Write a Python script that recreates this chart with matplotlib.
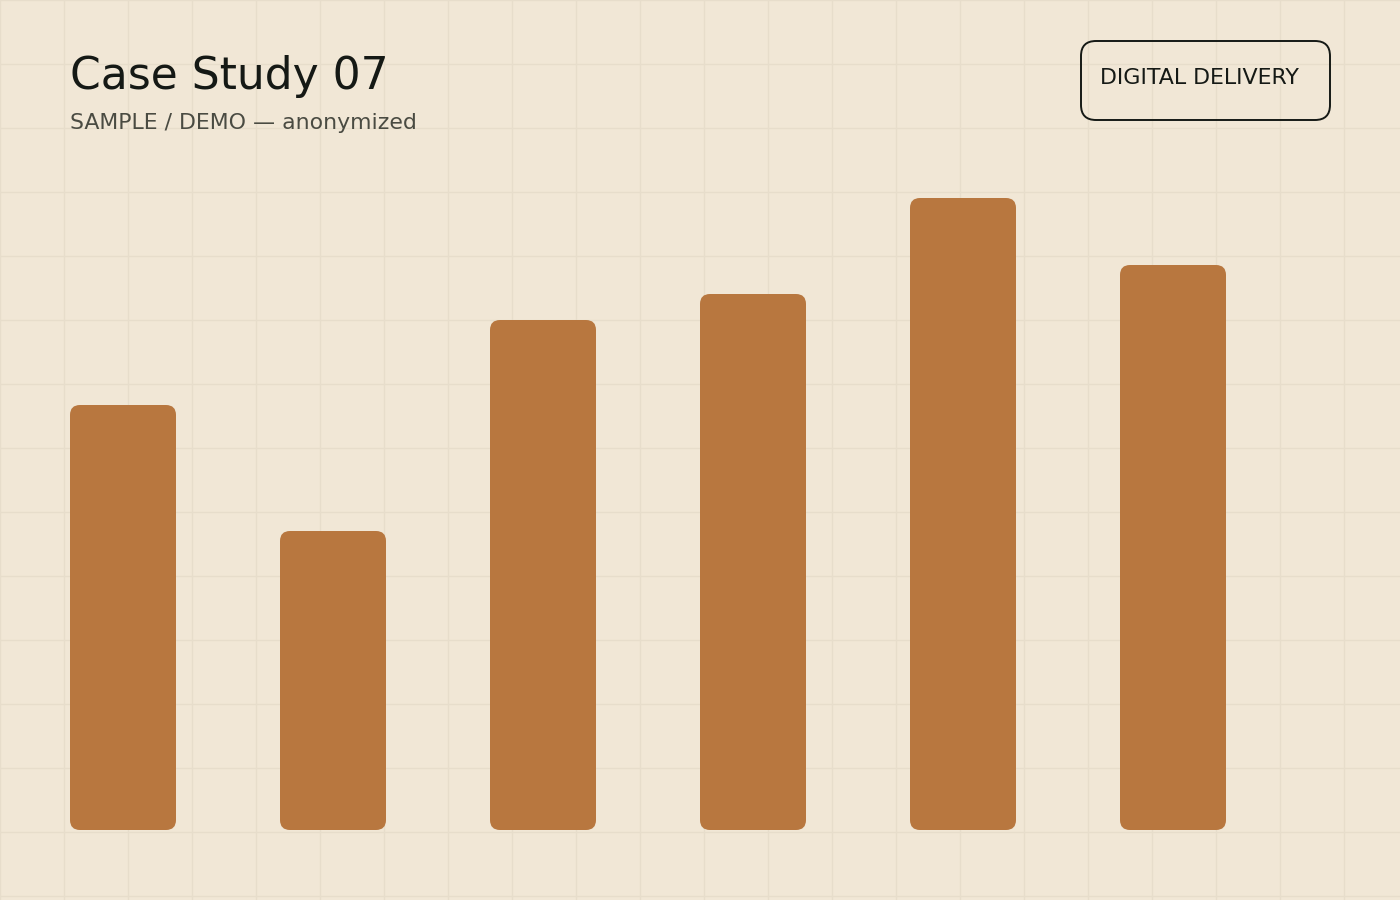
import numpy as np
import matplotlib
matplotlib.use("Agg")
import matplotlib.pyplot as plt
from matplotlib.patches import FancyBboxPatch

# data
categories = ["A", "B", "C", "D", "E", "F"]
values = [42.5, 29.9, 51.0, 53.6, 63.2, 56.5]

title = "Case Study 07"
subtitle = "SAMPLE / DEMO \u2014 anonymized"
badge = "DIGITAL DELIVERY"

BG = "#f1e7d6"
GRID = "#e7ddcb"
BAR = "#b8773f"
INK = "#151915"

W, H = 1400, 900
fig = plt.figure(figsize=(14, 9), dpi=100)
fig.patch.set_facecolor(BG)

# background grid, 64 px squares
bg = fig.add_axes([0, 0, 1, 1])
bg.set_xlim(0, W)
bg.set_ylim(H, 0)
bg.axis("off")
for gx in range(0, W + 1, 64):
    bg.axvline(gx, color=GRID, lw=1, zorder=0)
for gy in range(0, H + 1, 64):
    bg.axhline(gy, color=GRID, lw=1, zorder=0)

# bars axes: bottom at 830 px, top at 130 px
ax = fig.add_axes([0, 70 / H, 1, 700 / H])
ax.patch.set_alpha(0)
ax.axis("off")
step = 210.0
x0 = 123.0
ax.set_xlim(-x0 / step, (W - x0) / step)
ax.set_ylim(0, 70)
xs = np.arange(len(categories))
bw = 106 / step
bars = ax.bar(xs, values, width=bw, color=BAR)

# swap plain bars for rounded ones
px_x = step          # px per x unit
px_y = 700 / 70      # px per y unit
r_px = 10
for b in bars:
    x, y = b.get_x(), b.get_y()
    w, h = b.get_width(), b.get_height()
    b.remove()
    ax.add_patch(FancyBboxPatch((x, y), w, h,
                                boxstyle=f"round,pad=0,rounding_size={r_px / px_x}",
                                mutation_aspect=px_x / px_y,
                                fc=BAR, ec="none", zorder=2))

# header
fig.text(70 / W, 1 - 89.5 / H, title, fontsize=31.7, color=INK, ha="left", va="baseline")
fig.text(70 / W, 1 - 129 / H, subtitle, fontsize=15.8, color="#4a4b42", ha="left", va="baseline")

# badge
fig.patches.append(FancyBboxPatch((1081 / W, 1 - 120 / H), 249 / W, 79 / H,
                                  boxstyle=f"round,pad=0,rounding_size={15 / W}",
                                  mutation_aspect=W / H,
                                  transform=fig.transFigure, fc="none",
                                  ec=INK, lw=1.4, figure=fig))
fig.text(1100 / W, 1 - 83.5 / H, badge, fontsize=15.9, color=INK, ha="left", va="baseline")

fig.savefig("out.png", dpi=100, facecolor=BG)
